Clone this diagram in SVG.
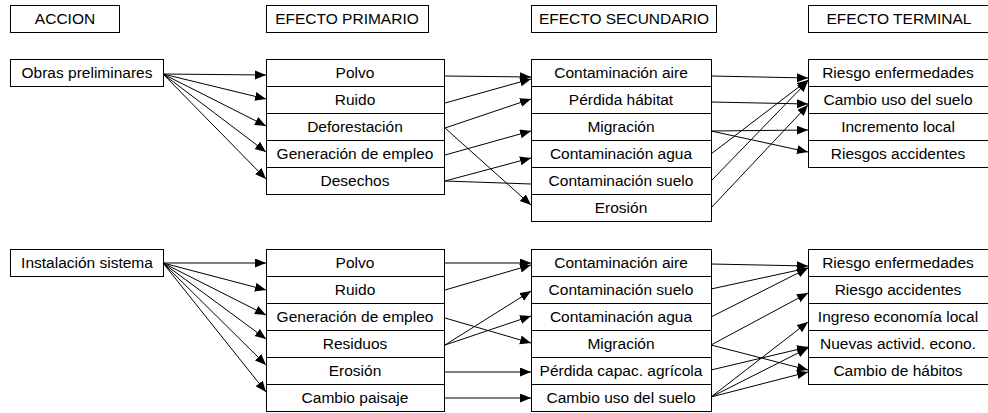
<svg xmlns="http://www.w3.org/2000/svg" width="988" height="413" viewBox="0 0 988 413">
<style>
rect{fill:#fff;stroke:#000;stroke-width:1}
text{font-family:"Liberation Sans",Arial,sans-serif;font-size:15.5px;fill:#000;text-anchor:middle}
.c line{stroke:#000;stroke-width:1}
.a{marker-end:url(#ah)}
</style>
<defs>
<marker id="ah" markerUnits="userSpaceOnUse" markerWidth="12" markerHeight="10" refX="11" refY="4.5" orient="auto">
<path d="M0,0 L11,4.5 L0,9 z" fill="#000"/>
</marker>
</defs>
<rect width="988" height="413" style="fill:#fff;stroke:none"/>
<g id="headers">
<g id="h-accion"><rect x="10.5" y="5.5" width="109" height="27"/><text x="65" y="24">ACCION</text></g>
<g id="h-primario"><rect x="266.5" y="5.5" width="162" height="27"/><text x="347" y="24">EFECTO PRIMARIO</text></g>
<g id="h-secundario"><rect x="531.5" y="5.5" width="185" height="27"/><text x="624" y="24">EFECTO SECUNDARIO</text></g>
<g id="h-terminal"><rect x="808.5" y="5.5" width="180" height="27"/><text x="899" y="24">EFECTO TERMINAL</text></g>
</g>
<g id="a1"><rect x="10.5" y="59.5" width="153" height="27"/><text x="87" y="78">Obras preliminares</text></g>
<g id="p1-1"><rect x="266.5" y="59.5" width="178" height="27"/><text x="355" y="78">Polvo</text></g>
<g id="p1-2"><rect x="266.5" y="86.5" width="178" height="27"/><text x="355" y="105">Ruido</text></g>
<g id="p1-3"><rect x="266.5" y="113.5" width="178" height="27"/><text x="355" y="132">Deforestación</text></g>
<g id="p1-4"><rect x="266.5" y="140.5" width="178" height="27"/><text x="355" y="159">Generación de empleo</text></g>
<g id="p1-5"><rect x="266.5" y="167.5" width="178" height="27"/><text x="355" y="186">Desechos</text></g>
<g id="s1-1"><rect x="531.5" y="59.5" width="180" height="27"/><text x="621" y="78">Contaminación aire</text></g>
<g id="s1-2"><rect x="531.5" y="86.5" width="180" height="27"/><text x="621" y="105">Pérdida hábitat</text></g>
<g id="s1-3"><rect x="531.5" y="113.5" width="180" height="27"/><text x="621" y="132">Migración</text></g>
<g id="s1-4"><rect x="531.5" y="140.5" width="180" height="27"/><text x="621" y="159">Contaminación agua</text></g>
<g id="s1-5"><rect x="531.5" y="167.5" width="180" height="27"/><text x="621" y="186">Contaminación suelo</text></g>
<g id="s1-6"><rect x="531.5" y="194.5" width="180" height="27"/><text x="621" y="213">Erosión</text></g>
<g id="t1-1"><rect x="808.5" y="59.5" width="180" height="27"/><text x="898" y="78">Riesgo enfermedades</text></g>
<g id="t1-2"><rect x="808.5" y="86.5" width="180" height="27"/><text x="898" y="105">Cambio uso del suelo</text></g>
<g id="t1-3"><rect x="808.5" y="113.5" width="180" height="27"/><text x="898" y="132">Incremento local</text></g>
<g id="t1-4"><rect x="808.5" y="140.5" width="180" height="27"/><text x="898" y="159">Riesgos accidentes</text></g>
<g id="a2"><rect x="10.5" y="249.5" width="153" height="27"/><text x="87" y="268">Instalación sistema</text></g>
<g id="p2-1"><rect x="266.5" y="249.5" width="178" height="27"/><text x="355" y="268">Polvo</text></g>
<g id="p2-2"><rect x="266.5" y="276.5" width="178" height="27"/><text x="355" y="295">Ruido</text></g>
<g id="p2-3"><rect x="266.5" y="303.5" width="178" height="27"/><text x="355" y="322">Generación de empleo</text></g>
<g id="p2-4"><rect x="266.5" y="330.5" width="178" height="27"/><text x="355" y="349">Residuos</text></g>
<g id="p2-5"><rect x="266.5" y="357.5" width="178" height="27"/><text x="355" y="376">Erosión</text></g>
<g id="p2-6"><rect x="266.5" y="384.5" width="178" height="27"/><text x="355" y="403">Cambio paisaje</text></g>
<g id="s2-1"><rect x="531.5" y="249.5" width="180" height="27"/><text x="621" y="268">Contaminación aire</text></g>
<g id="s2-2"><rect x="531.5" y="276.5" width="180" height="27"/><text x="621" y="295">Contaminación suelo</text></g>
<g id="s2-3"><rect x="531.5" y="303.5" width="180" height="27"/><text x="621" y="322">Contaminación agua</text></g>
<g id="s2-4"><rect x="531.5" y="330.5" width="180" height="27"/><text x="621" y="349">Migración</text></g>
<g id="s2-5"><rect x="531.5" y="357.5" width="180" height="27"/><text x="621" y="376">Pérdida capac. agrícola</text></g>
<g id="s2-6"><rect x="531.5" y="384.5" width="180" height="27"/><text x="621" y="403">Cambio uso del suelo</text></g>
<g id="t2-1"><rect x="808.5" y="249.5" width="180" height="27"/><text x="898" y="268">Riesgo enfermedades</text></g>
<g id="t2-2"><rect x="808.5" y="276.5" width="180" height="27"/><text x="898" y="295">Riesgo accidentes</text></g>
<g id="t2-3"><rect x="808.5" y="303.5" width="180" height="27"/><text x="898" y="322">Ingreso economía local</text></g>
<g id="t2-4"><rect x="808.5" y="330.5" width="180" height="27"/><text x="898" y="349">Nuevas activid. econo.</text></g>
<g id="t2-5"><rect x="808.5" y="357.5" width="180" height="27"/><text x="898" y="376">Cambio de hábitos</text></g>
<g id="connectors" class="c">
<line class="a" x1="163" y1="74" x2="266" y2="75"/>
<line class="a" x1="163" y1="74" x2="266" y2="99"/>
<line class="a" x1="163" y1="74" x2="266" y2="126"/>
<line class="a" x1="163" y1="74" x2="266" y2="152"/>
<line class="a" x1="163" y1="74" x2="266" y2="179"/>
<line class="a" x1="445" y1="76" x2="531" y2="77"/>
<line class="a" x1="445" y1="103" x2="531" y2="79"/>
<line class="a" x1="445" y1="128" x2="531" y2="99"/>
<line class="a" x1="445" y1="128" x2="531" y2="205"/>
<line class="a" x1="445" y1="155" x2="531" y2="131"/>
<line class="a" x1="445" y1="181" x2="531" y2="158"/>
<line x1="445" y1="181" x2="531" y2="184"/>
<line class="a" x1="711" y1="76" x2="808" y2="78"/>
<line class="a" x1="711" y1="102" x2="808" y2="104"/>
<line class="a" x1="711" y1="131" x2="808" y2="130"/>
<line class="a" x1="711" y1="131" x2="808" y2="152"/>
<line class="a" x1="711" y1="154" x2="808" y2="80"/>
<line class="a" x1="711" y1="181" x2="808" y2="81"/>
<line class="a" x1="711" y1="208" x2="808" y2="105"/>
<line class="a" x1="163" y1="263" x2="266" y2="263"/>
<line class="a" x1="163" y1="263" x2="266" y2="290"/>
<line class="a" x1="163" y1="263" x2="266" y2="315"/>
<line class="a" x1="163" y1="263" x2="266" y2="339"/>
<line class="a" x1="163" y1="263" x2="266" y2="365"/>
<line class="a" x1="163" y1="263" x2="266" y2="392"/>
<line class="a" x1="445" y1="263" x2="531" y2="263"/>
<line class="a" x1="445" y1="290" x2="531" y2="265"/>
<line class="a" x1="445" y1="318" x2="531" y2="343"/>
<line class="a" x1="445" y1="345" x2="531" y2="291"/>
<line class="a" x1="445" y1="345" x2="531" y2="316"/>
<line class="a" x1="445" y1="372" x2="531" y2="372"/>
<line class="a" x1="445" y1="398" x2="531" y2="398"/>
<line class="a" x1="711" y1="264" x2="808" y2="266"/>
<line class="a" x1="711" y1="289" x2="808" y2="268"/>
<line class="a" x1="711" y1="317" x2="808" y2="268"/>
<line class="a" x1="711" y1="345" x2="808" y2="293"/>
<line class="a" x1="711" y1="345" x2="808" y2="370"/>
<line class="a" x1="711" y1="370" x2="808" y2="347"/>
<line class="a" x1="711" y1="397" x2="808" y2="322"/>
<line class="a" x1="711" y1="397" x2="808" y2="348"/>
<line class="a" x1="711" y1="397" x2="808" y2="372"/>
</g>
</svg>
